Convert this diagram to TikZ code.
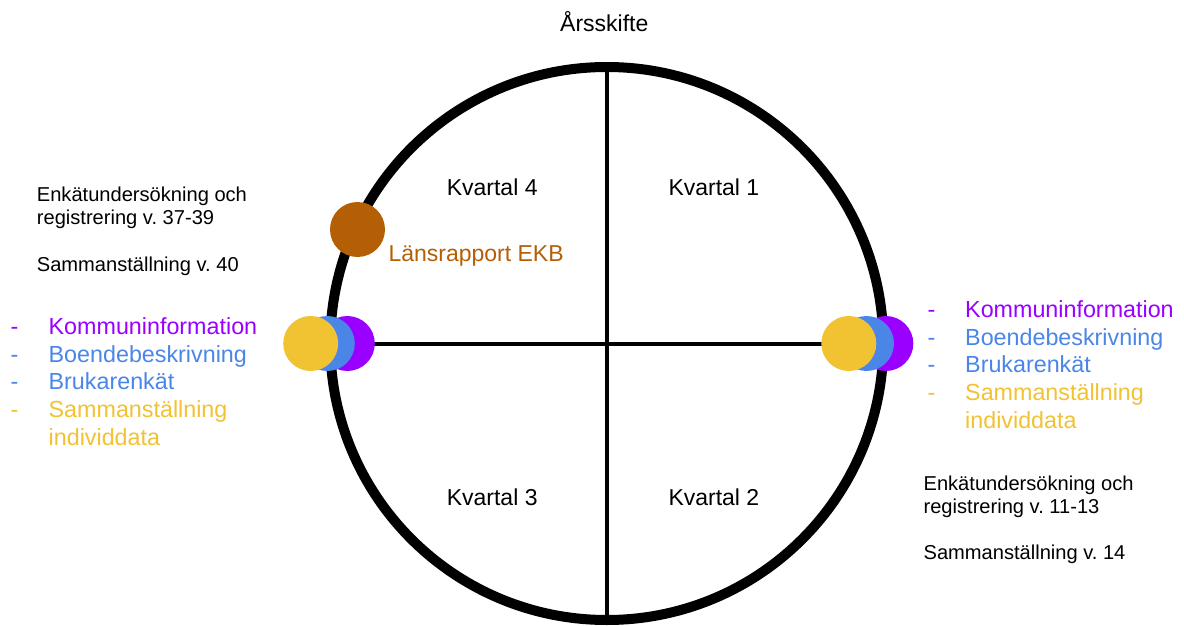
\documentclass[tikz,border=0pt]{standalone}
\usepackage{fontspec}
\setmainfont{Liberation Sans}
\frenchspacing
\definecolor{kpurple}{HTML}{9900FF}
\definecolor{kblue}{HTML}{4A86E8}
\definecolor{kyellow}{HTML}{F1C232}
\definecolor{kbrown}{HTML}{B45F06}
\tikzset{
  ring/.style={circle, draw=black, line width=10pt, minimum size=553pt, inner sep=0pt},
  divider/.style={draw=black, line width=4pt},
  dot/.style={circle, fill=#1, draw=none, minimum size=55pt, inner sep=0pt},
  lbl/.style={anchor=base west, inner sep=0pt, font=\fontsize{23}{27.8}\selectfont},
  lst/.style={anchor=base west, inner sep=0pt, font=\fontsize{23.3}{27.8}\selectfont},
  note/.style={anchor=base west, inner sep=0pt, font=\fontsize{20.1}{23.1}\selectfont},
}
\newcommand{\ditem}[3]{\makebox[#1][l]{\color{#2}-}\textcolor{#2}{#3}}
\begin{document}
\begin{tikzpicture}[x=1pt,y=-1pt]
\fill[white] (0,0) rectangle (1184,626);
\useasboundingbox (0,0) rectangle (1184,626);

% main ring and dividers
\node[ring] (ring) at (606.8,343.5) {};
\draw[divider] (ring.north) -- (ring.south);
\draw[divider] (ring.west) -- (ring.east);

% title and quarter labels
\node[lbl] (title) at (560,31.7) {Årsskifte};
\node[lbl] (q4) at (446.6,195) {Kvartal 4};
\node[lbl] (q1) at (668.3,195) {Kvartal 1};
\node[lbl] (q3) at (446.6,505) {Kvartal 3};
\node[lbl] (q2) at (668.3,505) {Kvartal 2};

% brown marker
\node[dot=kbrown] (ekb) at (357.5,229.5) {};
\node[lbl, text=kbrown] (ekblabel) at (388.3,261.7) {Länsrapport EKB};

% left markers
\node[dot=kpurple] (lp) at (347.3,343.5) {};
\node[dot=kblue] (lb) at (327.3,343.5) {};
\node[dot=kyellow] (ly) at (310.7,343.5) {};

% right markers
\node[dot=kpurple] (rp) at (885.8,343.5) {};
\node[dot=kblue] (rb) at (866.5,343.5) {};
\node[dot=kyellow] (ry) at (848.8,343.5) {};

% left list
\node[lst] (leftlist) at (10.5,334.3) {\begin{tabular}[t]{@{}l@{}}
\ditem{38pt}{kpurple}{Kommuninformation}\\
\ditem{38pt}{kblue}{Boendebeskrivning}\\
\ditem{38pt}{kblue}{Brukarenkät}\\
\ditem{38pt}{kyellow}{Sammanställning}\\
\hspace*{38pt}\textcolor{kyellow}{individdata}
\end{tabular}};

% right list
\node[lst] (rightlist) at (927.3,317.3) {\begin{tabular}[t]{@{}l@{}}
\ditem{37.7pt}{kpurple}{Kommuninformation}\\
\ditem{37.7pt}{kblue}{Boendebeskrivning}\\
\ditem{37.7pt}{kblue}{Brukarenkät}\\
\ditem{37.7pt}{kyellow}{Sammanställning}\\
\hspace*{37.7pt}\textcolor{kyellow}{individdata}
\end{tabular}};

% notes
\node[note] (leftnote) at (36.7,201.7) {\begin{tabular}[t]{@{}l@{}}
Enkätundersökning och\\
registrering v. 37-39\\
\\
Sammanställning v. 40
\end{tabular}};
\node[note] (rightnote) at (923.4,490) {\begin{tabular}[t]{@{}l@{}}
Enkätundersökning och\\
registrering v. 11-13\\
\\
Sammanställning v. 14
\end{tabular}};
\end{tikzpicture}
\end{document}
